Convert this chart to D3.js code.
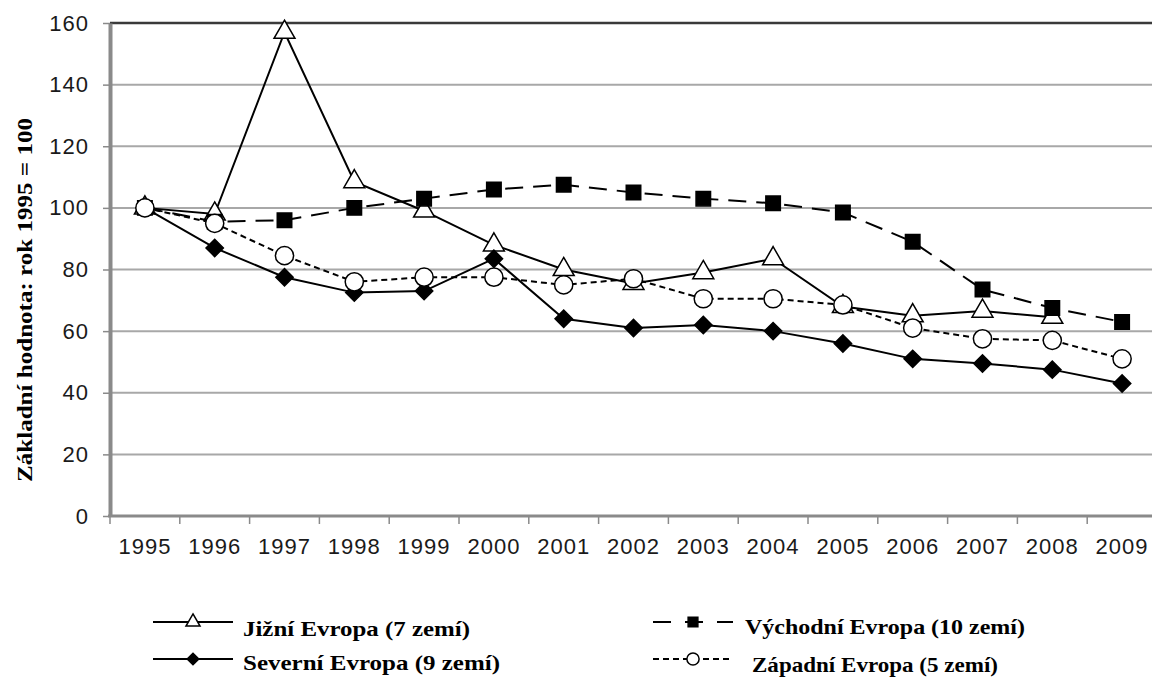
<!DOCTYPE html>
<html>
<head>
<meta charset="utf-8">
<script src="https://cdn.jsdelivr.net/npm/d3@7"></script>
<style>
  body { margin: 0; background: #fff; }
  svg { display: block; }
</style>
</head>
<body>
<div id="chart"></div>
<script>
// chart size
const width = 1152;
const height = 680;

// data
const years = ["1995", "1996", "1997", "1998", "1999", "2000", "2001", "2002",
               "2003", "2004", "2005", "2006", "2007", "2008", "2009"];
const jizni    = [100, 98, 157, 108.5, 99, 88, 80, 75.5, 79, 83.5, 68, 65, 66.5, 64.5, null];
const vychodni = [100, 95.5, 96, 100, 103, 106, 107.5, 105, 103, 101.5, 98.5, 89, 73.5, 67.5, 63];
const severni  = [100, 87, 77.5, 72.5, 73, 83.5, 64, 61, 62, 60, 56, 51, 49.5, 47.5, 43];
const zapadni  = [100, 95, 84.5, 76, 77.5, 77.5, 75, 77, 70.5, 70.5, 68.5, 61, 57.5, 57, 51];
const yTicks = [0, 20, 40, 60, 80, 100, 120, 140, 160];

const seriesNames = ["Jižní Evropa (7 zemí)", "Východní Evropa (10 zemí)",
                     "Severní Evropa (9 zemí)", "Západní Evropa (5 zemí)"];
const yTitle = "Základní hodnota: rok 1995 = 100";

const svg = d3.select("#chart").append("svg")
    .attr("width", width)
    .attr("height", height);

const x = d3.scaleBand().domain(years).range([110, 1157]).padding(0);
const y = d3.scaleLinear().domain([0, 160]).range([516, 23]);
const cx = d => x(d) + x.bandwidth() / 2;

// gridlines
svg.append("g")
    .selectAll("line")
    .data(yTicks.filter(t => t > 0))
    .enter().append("line")
    .attr("x1", 110).attr("x2", width)
    .attr("y1", d => y(d)).attr("y2", d => y(d))
    .attr("stroke", d => d === 160 ? "#3a3a3a" : "#a8a8a8")
    .attr("stroke-width", d => d === 160 ? 2.5 : 2);

// y axis
const yAxis = svg.append("g")
    .attr("transform", "translate(110,0)")
    .call(d3.axisLeft(y).tickValues(yTicks).tickSize(7).tickPadding(14).tickSizeOuter(0));
yAxis.select(".domain").attr("stroke", "#8a8a8a").attr("stroke-width", 4);
yAxis.selectAll(".tick line").attr("stroke", "#8a8a8a").attr("stroke-width", 1.5);
yAxis.selectAll(".tick text")
    .attr("font-family", "Liberation Sans, Arial, sans-serif")
    .attr("font-size", 22)
    .attr("letter-spacing", 1)
    .attr("fill", "#1a1a1a");

// x axis: ticks between categories
const xAxis = svg.append("g")
    .attr("transform", "translate(0,516)");
xAxis.append("line")
    .attr("x1", 108).attr("x2", width)
    .attr("stroke", "#8a8a8a").attr("stroke-width", 3);
xAxis.selectAll(".xt")
    .data(years)
    .enter().append("line")
    .attr("class", "xt")
    .attr("x1", d => x(d)).attr("x2", d => x(d))
    .attr("y1", 0).attr("y2", 8)
    .attr("stroke", "#8a8a8a").attr("stroke-width", 1.5);
xAxis.selectAll(".xl")
    .data(years)
    .enter().append("text")
    .attr("class", "xl")
    .attr("x", d => cx(d))
    .attr("y", 38)
    .attr("text-anchor", "middle")
    .attr("font-family", "Liberation Sans, Arial, sans-serif")
    .attr("font-size", 22)
    .attr("letter-spacing", 1)
    .attr("fill", "#1a1a1a")
    .text(d => d);

// y title
svg.append("text")
    .attr("transform", "translate(32,300) rotate(-90)")
    .attr("text-anchor", "middle")
    .attr("font-family", "Liberation Serif, Times New Roman, serif")
    .attr("font-weight", "bold")
    .attr("font-size", 21)
    .attr("textLength", 364)
    .attr("lengthAdjust", "spacingAndGlyphs")
    .text(yTitle);

// marker drawing (diamond = square turned 45 degrees)
const tri = d3.symbol().type(d3.symbolTriangle);
const sq = d3.symbol().type(d3.symbolSquare);
const circ = d3.symbol().type(d3.symbolCircle);

const series = [
    { name: seriesNames[0], values: jizni, dash: null, shape: tri, size: 190, rot: 0, fill: "#fff", legend: [153, 622, 243, 636] },
    { name: seriesNames[1], values: vychodni, dash: "18,10", shape: sq, size: 210, rot: 0, fill: "#000", legend: [653, 622, 745, 634] },
    { name: seriesNames[2], values: severni, dash: null, shape: sq, size: 150, rot: 45, fill: "#000", legend: [153, 659, 243, 670] },
    { name: seriesNames[3], values: zapadni, dash: "6,4", shape: circ, size: 260, rot: 0, fill: "#fff", legend: [653, 659, 752, 672] }
];
const legendTextLen = [227, 280, 257, 246];

const line = d3.line()
    .defined(d => d.v != null)
    .x(d => cx(d.year))
    .y(d => y(d.v));

series.forEach((s, i) => {
    const pts = years.map((yr, j) => ({ year: yr, v: s.values[j] }));
    const g = svg.append("g");
    g.append("path")
        .datum(pts)
        .attr("d", line)
        .attr("fill", "none")
        .attr("stroke", "#000")
        .attr("stroke-width", 2)
        .attr("stroke-dasharray", s.dash);
    g.selectAll("path.m")
        .data(pts.filter(d => d.v != null))
        .enter().append("path")
        .attr("class", "m")
        .attr("d", s.shape.size(s.size))
        .attr("transform", d => `translate(${cx(d.year)},${y(d.v)}) rotate(${s.rot})`)
        .attr("fill", s.fill)
        .attr("stroke", "#000")
        .attr("stroke-width", 1.5);

    // legend entry
    const [lx, ly, tx, ty] = s.legend;
    const lg = svg.append("g");
    lg.append("line")
        .attr("x1", lx).attr("x2", lx + 80)
        .attr("y1", ly).attr("y2", ly)
        .attr("stroke", "#000")
        .attr("stroke-width", 2)
        .attr("stroke-dasharray", s.dash ? (s.dash === "6,4" ? "6,4" : "18,14") : null);
    lg.append("path")
        .attr("d", s.shape.size(s.size * 0.45))
        .attr("transform", `translate(${lx + 40},${ly}) rotate(${s.rot})`)
        .attr("fill", s.fill)
        .attr("stroke", "#000")
        .attr("stroke-width", 1.5);
    lg.append("text")
        .attr("x", tx).attr("y", ty)
        .attr("font-family", "Liberation Serif, Times New Roman, serif")
        .attr("font-weight", "bold")
        .attr("font-size", 21)
        .attr("textLength", legendTextLen[i])
        .attr("lengthAdjust", "spacingAndGlyphs")
        .text(s.name);
});
</script>
</body>
</html>
